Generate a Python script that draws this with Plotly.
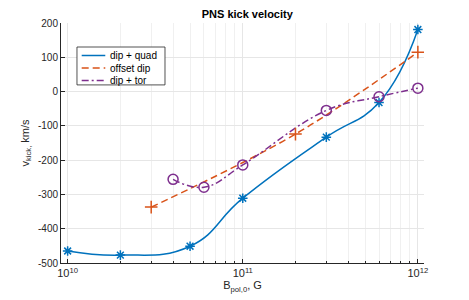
import plotly.graph_objects as go

# Data
quad_B = [1e10, 2e10, 5e10, 1e11, 3e11, 6e11, 1e12]
quad_v = [-465, -477, -451, -311, -133, -32, 181]

offset_B = [3e10, 2e11, 1e12]
offset_v = [-337, -124, 115]

tor_B = [4e10, 6e10, 1e11, 3e11, 6e11, 1e12]
tor_v = [-256, -279, -214, -55, -15, 10]

series_names = ["dip + quad", "offset dip", "dip + tor"]
colors = ["#0072BD", "#D95319", "#7E2F8E"]

x_tickvals = [1e10, 1e11, 1e12]
x_ticktext = ["10<sup>10</sup>", "10<sup>11</sup>", "10<sup>12</sup>"]
y_tickvals = [-500, -400, -300, -200, -100, 0, 100, 200]
y_ticktext = ["-500", "-400", "-300", "-200", "-100", "0", "100", "200"]

FONT = "Liberation Sans, Arial, sans-serif"
TXT = "#262626"

fig = go.Figure()

dashes = ["solid", "7px,4px", "7px,3px,2px,3px"]
symbols = ["asterisk-open", "cross-thin-open", "circle-open"]
msizes = [8, 9, 10]
smooth = [1.3, 1.0, 1.2]
xs_all = [quad_B, offset_B, tor_B]
ys_all = [quad_v, offset_v, tor_v]

for xs, ys, dash, sm, name, col in zip(xs_all, ys_all, dashes, smooth, series_names, colors):
    fig.add_trace(go.Scatter(
        x=xs, y=ys, mode="lines", name=name,
        line=dict(color=col, width=1.5, dash=dash, shape="spline", smoothing=sm),
        showlegend=False,
    ))
for xs, ys, sym, msz, name, col in zip(xs_all, ys_all, symbols, msizes, series_names, colors):
    fig.add_trace(go.Scatter(
        x=xs, y=ys, mode="markers", name=name,
        marker=dict(symbol=sym, size=msz, color=col, line=dict(color=col, width=1.5)),
        showlegend=False,
    ))

# Compact MATLAB-style legend drawn in plot-area (paper) coordinates
shapes = [dict(type="rect", xref="paper", yref="paper",
               x0=0.044, x1=0.2865, y0=0.742, y1=0.9,
               fillcolor="white", line=dict(color="#262626", width=0.8), layer="above")]
annotations = []
entry_y = [0.8646, 0.8125, 0.7604]
for ey, name, col, dash in zip(entry_y, series_names, colors, dashes):
    shapes.append(dict(type="line", xref="paper", yref="paper",
                       x0=0.057, x1=0.122, y0=ey, y1=ey,
                       line=dict(color=col, width=1.5, dash=dash), layer="above"))
    annotations.append(dict(xref="paper", yref="paper", x=0.1295, y=ey,
                            xanchor="left", yanchor="middle", showarrow=False,
                            text=name, font=dict(size=10, color="black", family=FONT)))

# The page body adds an 8px offset, so the figure is 8px smaller and margins shifted
fig.update_layout(
    width=461, height=292,
    margin=dict(l=53, r=45, t=15, b=37),
    paper_bgcolor="white", plot_bgcolor="white",
    font=dict(family=FONT, size=10, color=TXT),
    title=dict(text="<b>PNS kick velocity</b>", x=0.519, xanchor="center",
               y=0.978, yanchor="middle", font=dict(size=11, color="black")),
    showlegend=False,
    shapes=shapes,
    annotations=annotations,
    xaxis=dict(
        type="log", range=[9.962, 12.035], automargin=False,
        tickvals=x_tickvals, ticktext=x_ticktext,
        showgrid=True, gridcolor="#E6E6E6", gridwidth=1,
        minor=dict(dtick="D1", showgrid=True, gridcolor="#F0F0F0", gridwidth=1,
                   ticks="inside", ticklen=2, tickcolor="#262626"),
        showline=True, linecolor="#262626", linewidth=1,
        ticks="inside", ticklen=4, tickcolor="#262626",
        zeroline=False,
        title=dict(text="B<sub>pol,0</sub>, G", standoff=2, font=dict(size=11, color=TXT)),
        tickfont=dict(size=11, color=TXT),
    ),
    yaxis=dict(
        range=[-500, 200], automargin=False,
        tickvals=y_tickvals, ticktext=y_ticktext,
        showgrid=True, gridcolor="#E6E6E6", gridwidth=1,
        showline=True, linecolor="#262626", linewidth=1,
        ticks="inside", ticklen=4, tickcolor="#262626",
        zeroline=False,
        title=dict(text="v<sub>kick,</sub> km/s", standoff=6, font=dict(size=11, color=TXT)),
        tickfont=dict(size=10, color=TXT),
    ),
)

fig.write_html("out.html")
